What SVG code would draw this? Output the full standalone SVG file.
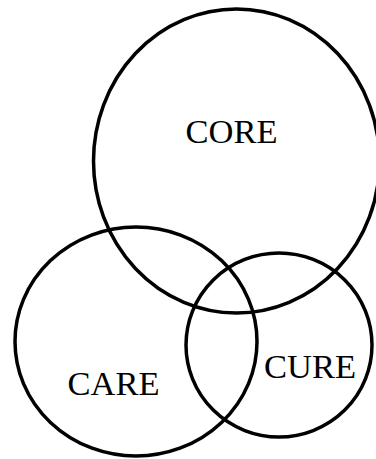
<svg xmlns="http://www.w3.org/2000/svg" width="376" height="459" viewBox="0 0 376 459">
<style>
.c{fill:none;stroke:#000;stroke-width:3.5}
.t{font-family:"Liberation Serif","Times New Roman",serif;font-size:34.5px;fill:#000;text-anchor:middle}
</style>
<rect width="376" height="459" fill="#fff"/>
<g id="core"><ellipse class="c" cx="236.5" cy="161" rx="143" ry="152"/><text class="t" x="231.5" y="143">CORE</text></g>
<g id="care"><ellipse class="c" cx="136" cy="341.5" rx="121" ry="114.5"/><text class="t" x="113.5" y="395">CARE</text></g>
<g id="cure"><ellipse class="c" cx="279" cy="345" rx="93" ry="92"/><text class="t" x="310" y="378">CURE</text></g>
<g id="connectors"/>
</svg>
